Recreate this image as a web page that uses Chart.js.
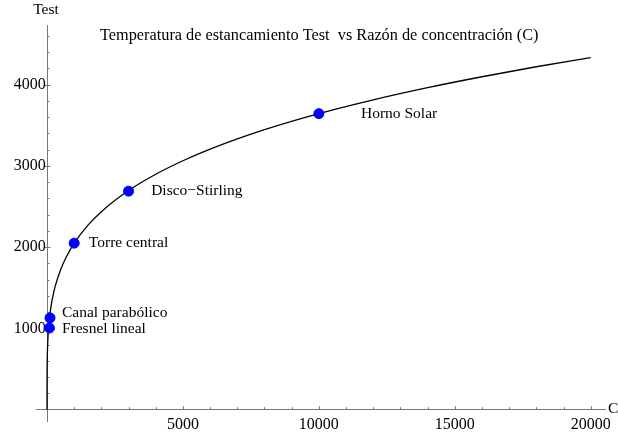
<!DOCTYPE html>
<html>
<head>
<meta charset="utf-8">
<script src="https://cdn.jsdelivr.net/npm/chart.js@4/dist/chart.umd.min.js"></script>
<style>
html,body{margin:0;padding:0;background:#fff;}
#wrap{width:618px;height:435px;position:relative;}
</style>
</head>
<body>
<div id="wrap"><canvas id="c" width="618" height="435"></canvas></div>
<script>
// Curve: concentration ratio C vs stagnation temperature Test
const curveC = [0, 2, 5, 10, 20, 40, 70, 100, 150, 200, 300, 500, 700, 1000, 1500, 2000, 3000, 4000, 5000, 6000, 8000, 10000, 12000, 14000, 16000, 18000, 20000];
const curveT = [0, 433, 545, 648, 771, 916, 1054, 1152, 1275, 1370, 1517, 1723, 1874, 2049, 2268, 2437, 2697, 2898, 3064, 3207, 3446, 3644, 3814, 3964, 4098, 4221, 4333];

// Marked technologies
const techNames = ["Fresnel lineal", "Canal parabólico", "Torre central", "Disco\u2212Stirling", "Horno Solar"];
const techC = [90, 110, 1000, 3000, 10000];
const techT = [1005, 1130, 2050, 2690, 3644];
// Label anchors (data coordinates, left-middle of text)
const labelC = [550, 550, 1540, 3830, 11550];
const labelT = [994, 1190, 2049, 2687, 3644];

// Tick values
const xMajorTicks = [5000, 10000, 15000, 20000];
const xMinorStep = 1000;
const yMajorTicks = [1000, 2000, 3000, 4000];
const yMinorStep = 200;

const titleText = "Temperatura de estancamiento Test  vs Razón de concentración (C)";
const FONT = "Liberation Serif";

function rangeTicks(from, to, step) {
  const out = [];
  for (let v = from; v <= to + 1e-9; v += step) out.push(v);
  return out;
}

const decor = {
  id: 'decor',
  beforeDatasetsDraw(chart) {
    const ctx = chart.ctx;
    const xs = chart.scales.x, ys = chart.scales.y;
    const x0 = xs.getPixelForValue(0), y0 = ys.getPixelForValue(0);
    ctx.save();
    ctx.strokeStyle = '#777';
    ctx.lineWidth = 1;
    xs.ticks.forEach(t => {
      if (t.value === 0) return;
      const px = Math.round(xs.getPixelForValue(t.value)) + 0.5;
      const major = xMajorTicks.includes(t.value);
      ctx.beginPath();
      ctx.moveTo(px, y0);
      ctx.lineTo(px, y0 - (major ? 3.5 : 2.5));
      ctx.stroke();
    });
    ys.ticks.forEach(t => {
      if (t.value === 0) return;
      const py = Math.round(ys.getPixelForValue(t.value)) + 0.5;
      const major = yMajorTicks.includes(t.value);
      ctx.beginPath();
      ctx.moveTo(x0 - (major ? 2 : 0), py);
      ctx.lineTo(x0 + (major ? 3.5 : 2.5), py);
      ctx.stroke();
    });
    ctx.restore();
  },
  afterDraw(chart) {
    const ctx = chart.ctx;
    const xs = chart.scales.x, ys = chart.scales.y;
    const x0 = xs.getPixelForValue(0), y0 = ys.getPixelForValue(0);
    ctx.save();
    ctx.fillStyle = '#000';
    ctx.font = '15.5px "' + FONT + '"';
    ctx.textBaseline = 'middle';
    ctx.textAlign = 'left';
    techNames.forEach((n, i) => {
      ctx.fillText(n, xs.getPixelForValue(labelC[i]), ys.getPixelForValue(labelT[i]));
    });
    ctx.textAlign = 'center';
    ctx.fillText('Test', x0 - 1, 10);
    ctx.textAlign = 'left';
    ctx.fillText('C', 608, y0 - 1);
    ctx.font = '16.3px "' + FONT + '"';
    ctx.fillText(titleText, 100, 36);
    ctx.restore();
  }
};

new Chart(document.getElementById('c'), {
  type: 'line',
  data: {
    datasets: [
      {
        label: 'Test',
        data: curveC.map((c, i) => ({x: c, y: curveT[i]})),
        borderColor: '#000',
        borderWidth: 1.3,
        pointRadius: 0,
        fill: false,
        cubicInterpolationMode: 'monotone',
        order: 2
      },
      {
        type: 'scatter',
        label: 'Tecnologías',
        data: techC.map((c, i) => ({x: c, y: techT[i]})),
        backgroundColor: '#0000ff',
        borderColor: '#0000ff',
        pointRadius: 5,
        pointHoverRadius: 5,
        showLine: false,
        order: 1
      }
    ]
  },
  options: {
    responsive: false,
    animation: false,
    events: [],
    layout: {padding: {left: 36, right: 13, top: 25, bottom: 14}},
    plugins: {legend: {display: false}, tooltip: {enabled: false}, title: {display: false}},
    scales: {
      x: {
        type: 'linear',
        position: {y: 0},
        min: -405,
        max: 20526,
        afterBuildTicks: s => { s.ticks = rangeTicks(0, 20000, xMinorStep).map(v => ({value: v})); },
        grid: {display: false, drawTicks: false},
        border: {display: true, color: '#777', width: 1},
        ticks: {
          autoSkip: false,
          maxRotation: 0,
          padding: 5,
          color: '#000',
          font: {family: FONT, size: 16},
          callback: v => xMajorTicks.includes(v) ? String(v) : ''
        }
      },
      y: {
        type: 'linear',
        position: {x: 0},
        min: -139,
        max: 4735,
        afterBuildTicks: s => { s.ticks = rangeTicks(0, 4600, yMinorStep).map(v => ({value: v})); },
        grid: {display: false, drawTicks: false},
        border: {display: true, color: '#777', width: 1},
        ticks: {
          autoSkip: false,
          padding: 3,
          color: '#000',
          font: {family: FONT, size: 16},
          callback: v => yMajorTicks.includes(v) ? String(v) + '\u200A' : ''
        }
      }
    }
  },
  plugins: [decor]
});
</script>
</body>
</html>
